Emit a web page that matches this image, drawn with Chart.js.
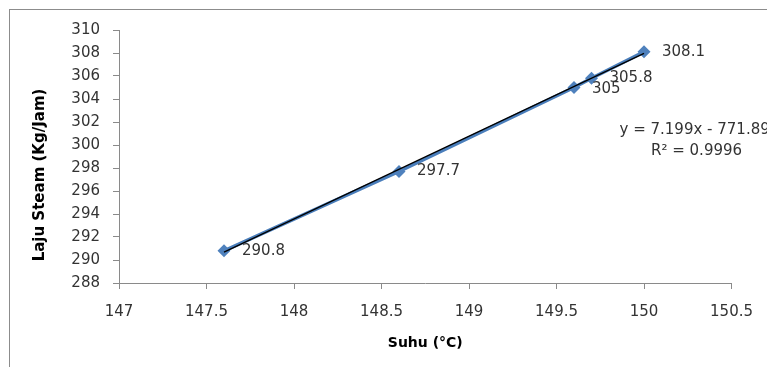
<!DOCTYPE html>
<html>
<head>
<meta charset="utf-8">
<script src="https://cdn.jsdelivr.net/npm/chart.js@4"></script>
<style>
  html, body { margin: 0; padding: 0; background: #fff; }
  #wrap { width: 767px; height: 367px; }
</style>
</head>
<body>
<div id="wrap"><canvas id="steamChart" width="767" height="367"></canvas></div>
<script>
// data
const suhu = [147.6, 148.6, 149.6, 149.7, 150];
const lajuSteam = [290.8, 297.7, 305, 305.8, 308.1];
const pointLabels = ['290.8', '297.7', '305', '305.8', '308.1'];

// linear trendline endpoints (y = 7.199x - 771.89)
const trendX = [147.6, 150];
const trendY = [290.68, 307.96];
const trendText = ['y = 7.199x - 771.89', 'R\u00b2 = 0.9996'];

const xTicks = [147, 147.5, 148, 148.5, 149, 149.5, 150, 150.5];
const yTicks = [288, 290, 292, 294, 296, 298, 300, 302, 304, 306, 308, 310];

const FONT = "'DejaVu Sans', Verdana, sans-serif";
const TEXT = '#333333';
const AXIS = '#8a8a8a';
const BLUE = '#4A7EBB';

const frame = {
    id: 'frame',
    beforeDraw(chart) {
        const { ctx } = chart;
        ctx.save();
        ctx.strokeStyle = '#8c8c8c';
        ctx.lineWidth = 1;
        ctx.strokeRect(9.5, 9.5, 900, 500);
        ctx.restore();
    }
};

const labelsAndEquation = {
    id: 'labelsAndEquation',
    afterDatasetsDraw(chart) {
        const { ctx } = chart;
        const meta = chart.getDatasetMeta(0);
        ctx.save();
        ctx.font = '15px ' + FONT;
        ctx.fillStyle = TEXT;
        ctx.textBaseline = 'middle';
        ctx.textAlign = 'left';
        meta.data.forEach((pt, i) => {
            const dy = i === 2 ? 2 : 0;
            ctx.fillText(pointLabels[i], pt.x + 18, pt.y + dy);
        });

        // trendline equation, anchored in data space
        const xs = chart.scales.x, ys = chart.scales.y;
        ctx.fillText(trendText[0], xs.getPixelForValue(149.86), ys.getPixelForValue(301.3));
        ctx.fillText(trendText[1], xs.getPixelForValue(150.04), ys.getPixelForValue(299.5));

        // y axis title, centred where the original has it
        ctx.font = 'bold 15px ' + FONT;
        ctx.fillStyle = '#000';
        ctx.textAlign = 'center';
        ctx.translate(40, 175);
        ctx.rotate(-Math.PI / 2);
        ctx.fillText('Laju Steam (Kg/Jam)', 0, 0);
        ctx.restore();
    }
};

new Chart(document.getElementById('steamChart'), {
    type: 'scatter',
    data: {
        datasets: [
            {
                label: 'Laju Steam',
                data: suhu.map((x, i) => ({ x: x, y: lajuSteam[i] })),
                showLine: true,
                borderColor: BLUE,
                borderWidth: 3.5,
                pointStyle: 'rectRot',
                pointRadius: 6.5,
                pointBackgroundColor: '#4F81BD',
                pointBorderColor: '#4F81BD',
                pointBorderWidth: 0,
                order: 1
            },
            {
                label: 'Linear',
                data: trendX.map((x, i) => ({ x: x, y: trendY[i] })),
                showLine: true,
                borderColor: '#000000',
                borderWidth: 1.3,
                pointRadius: 0,
                order: 0
            }
        ]
    },
    options: {
        responsive: false,
        animation: false,
        layout: { padding: { top: 30, right: 34, left: 0, bottom: 0 } },
        plugins: {
            legend: { display: false },
            tooltip: { enabled: false }
        },
        scales: {
            x: {
                type: 'linear',
                min: 147,
                max: 150.5,
                afterBuildTicks: (s) => { s.ticks = xTicks.map(v => ({ value: v })); },
                afterFit: (s) => { s.height = 84; },
                grid: { drawOnChartArea: false, drawTicks: true, tickLength: 6, color: AXIS },
                border: { color: AXIS },
                ticks: {
                    color: TEXT,
                    font: { family: FONT, size: 15 },
                    padding: 14,
                    maxRotation: 0,
                    callback: (v) => String(v)
                },
                title: {
                    display: true,
                    text: 'Suhu (\u00b0C)',
                    color: '#000',
                    font: { family: FONT, size: 14, weight: 'bold' },
                    padding: { top: 0, bottom: 15.5 }
                }
            },
            y: {
                type: 'linear',
                min: 288,
                max: 310,
                afterBuildTicks: (s) => { s.ticks = yTicks.map(v => ({ value: v })); },
                afterFit: (s) => { s.width = 119; },
                grid: { drawOnChartArea: false, drawTicks: true, tickLength: 6, color: AXIS },
                border: { color: AXIS },
                ticks: {
                    color: TEXT,
                    font: { family: FONT, size: 15 },
                    padding: 13,
                    callback: (v) => String(v)
                }
            }
        }
    },
    plugins: [frame, labelsAndEquation]
});
</script>
</body>
</html>
